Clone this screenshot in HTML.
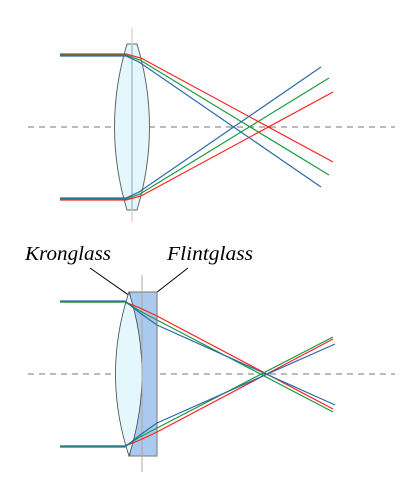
<!DOCTYPE html>
<html><head><meta charset="utf-8"><style>
body{margin:0;background:#fff}
svg{display:block}
text{font-family:"Liberation Serif",serif;font-style:italic;font-size:20px;fill:#000}
</style></head><body>
<svg width="415" height="500" viewBox="0 0 415 500">
<g>
<line x1="28" y1="127" x2="395" y2="127" stroke="#777" stroke-dasharray="6,5"/>
<path d="M127,44 L137,44 Q162,127 137,210 L127,210 Q102,127 127,44 Z" fill="#e4f7fd" stroke="#666" stroke-width="1"/>
<line x1="132" y1="28" x2="132" y2="222" stroke="#d9cfc4" stroke-width="1.2"/>
<line x1="132" y1="44" x2="132" y2="210" stroke="#a8c4d4" stroke-width="1.5"/>
<g fill="none" stroke-width="1.2">
<polyline points="60,54 126,54 141,58 333,162" stroke="#ff2020"/>
<polyline points="60,55 126,55 140,60 329,175" stroke="#1a9a40"/>
<polyline points="60,56 126,56 139,62 321,187" stroke="#2a6aaa"/>
<polyline points="60,200 126,200 141,196 333,92" stroke="#ff2020"/>
<polyline points="60,199 126,199 140,194 329,78" stroke="#1a9a40"/>
<polyline points="60,198 126,198 139,192 321,67" stroke="#2a6aaa"/>
</g>
</g>
<g>
<text x="25" y="260" textLength="86" lengthAdjust="spacingAndGlyphs">Kronglass</text>
<text x="167" y="260" textLength="86" lengthAdjust="spacingAndGlyphs">Flintglass</text>
<line x1="90" y1="268" x2="130" y2="296" stroke="#000"/>
<line x1="188" y1="268" x2="152" y2="296" stroke="#000"/>
<line x1="28" y1="374" x2="395" y2="374" stroke="#777" stroke-dasharray="6,5"/>
<rect x="130" y="292" width="27" height="164" fill="#a9c9ee" stroke="#888" stroke-width="1.2"/>
<path d="M129,292 Q155,374 129,456 Q102,374 129,292 Z" fill="#e4f7fd" stroke="#444" stroke-width="0.8"/>
<line x1="142" y1="275" x2="142" y2="472" stroke="#b0a8a0" stroke-width="1"/>
<g fill="none" stroke-width="1.2">
<polyline points="60,302 125,302 140,308 157,316 333,409" stroke="#ff2020"/>
<polyline points="60,302 125,302 140,311 157,320 333,412" stroke="#1a9a40"/>
<polyline points="60,301 125,301 140,313 157,325 335,405" stroke="#2a6aaa"/>
<polyline points="60,446 125,446 140,440 157,432 333,339" stroke="#ff2020"/>
<polyline points="60,446 125,446 140,437 157,428 333,337" stroke="#1a9a40"/>
<polyline points="60,447 125,447 140,435 157,423 335,344" stroke="#2a6aaa"/>
</g>
</g>
</svg>
</body></html>
